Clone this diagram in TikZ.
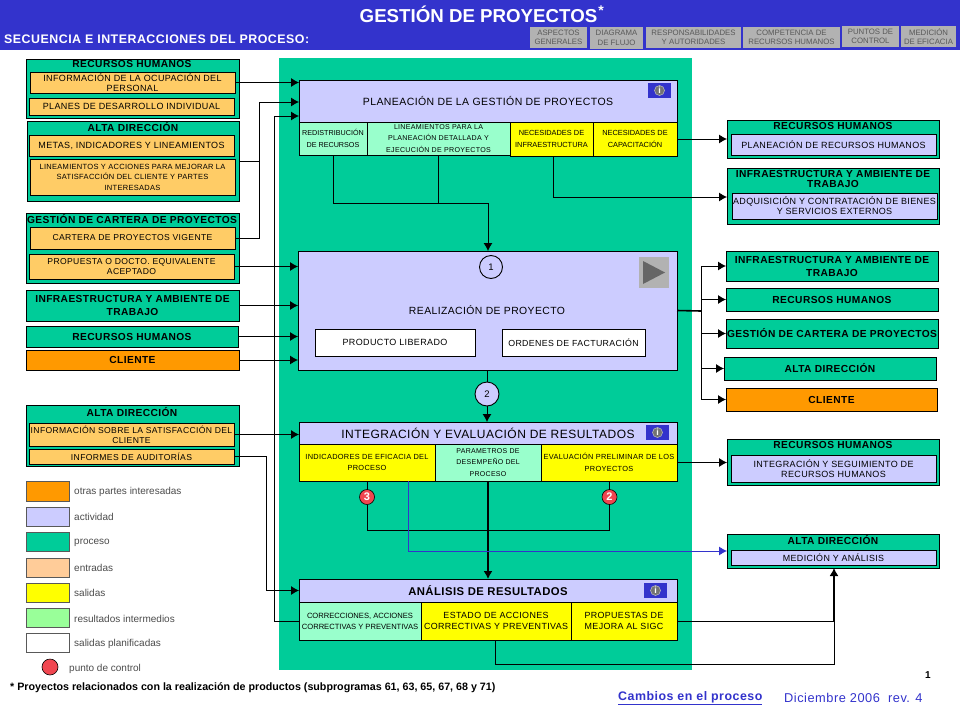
\documentclass[tikz,border=0pt]{standalone}
\usepackage{fontspec}
\setmainfont{Liberation Sans}
\newfontfamily\widefont[LetterSpace=4]{Liberation Sans}
\usetikzlibrary{arrows.meta}
\definecolor{headblue}{RGB}{51,51,204}
\definecolor{procgreen}{RGB}{0,204,153}
\definecolor{actlilac}{RGB}{204,204,255}
\definecolor{inorange}{RGB}{255,204,102}
\definecolor{inpeach}{RGB}{255,204,153}
\definecolor{outyellow}{RGB}{255,255,0}
\definecolor{midgreen}{RGB}{153,255,204}
\definecolor{keygreen}{RGB}{153,255,153}
\definecolor{partorange}{RGB}{255,153,0}
\definecolor{tabgrey}{RGB}{178,178,178}
\definecolor{ctrlred}{RGB}{240,70,80}
\newcommand{\fs}[2]{\fontsize{#1}{#2}\selectfont}
\tikzset{
  panel/.style={draw=black,line width=0.9pt,anchor=north west,inner sep=0pt,outer sep=0pt,align=center,text=black},
  proc/.style={panel,fill=procgreen,font=\widefont\bfseries\fs{10.2}{13}},
  act/.style={panel,fill=actlilac},
  entry/.style={panel,fill=inorange,font=\widefont\fs{8.6}{10}},
  exit/.style={panel,fill=outyellow,font=\widefont\fs{7.4}{11.5}},
  mid/.style={panel,fill=midgreen,font=\widefont\fs{7}{11.5}},
  plan/.style={panel,fill=white,font=\widefont\fs{9}{10}},
  tab/.style={anchor=north west,fill=tabgrey,inner sep=0pt,outer sep=0pt,align=center,text=black!65,font=\fs{7.8}{9.5}},
  head/.style={inner sep=0pt,font=\widefont\bfseries\fs{10.2}{10}},
  sub/.style={act,font=\widefont\fs{9}{10}},
  key/.style={draw=black!65,line width=1pt,anchor=north west,minimum width=43pt,minimum height=20pt,inner sep=0pt,outer sep=0pt},
  keytxt/.style={anchor=west,inner sep=0pt,text=black!70,font=\fs{10}{12}},
  badge/.style={circle,draw=black,line width=0.9pt,fill=actlilac,minimum size=23pt,inner sep=0pt,outer sep=0pt,font=\fs{9.5}{10}},
  ctrl/.style={circle,draw=black,line width=0.6pt,fill=ctrlred,minimum size=15pt,inner sep=0pt,outer sep=0pt,text=white,font=\bfseries\fs{11}{12}},
  infotab/.style={anchor=north west,fill=headblue,minimum width=23pt,minimum height=15pt,inner sep=0pt,outer sep=0pt},
  infodot/.style={circle,fill=black!55,draw=black!25,line width=0.5pt,minimum size=10pt,inner sep=0pt,text=white,font=\bfseries\fs{9}{9}},
  wire/.style={draw=black,line width=0.9pt},
  link/.style={wire,-{Latex[length=8pt,width=9pt]}},
}
\begin{document}
\begin{tikzpicture}[x=1pt,y=-1pt]
\useasboundingbox (0,0) rectangle (960,720);
\fill[white] (0,0) rectangle (960,720);
\fill[headblue] (0,0) rectangle (960,50);
\fill[procgreen] (279,58) rectangle (692,670);
\draw (478.5,14) node[text=white,inner sep=0pt,font=\bfseries\fs{18.7}{19}](title) {GESTIÓN DE PROYECTOS};
\draw (601,11) node[text=white,inner sep=0pt,font=\bfseries\fs{14}{14}](star) {*};
\draw (4,39) node[anchor=west,text=white,inner sep=0pt,font=\widefont\bfseries\fs{12.4}{14}](subtitle) {SECUENCIA E INTERACCIONES DEL PROCESO:};
\draw (530,27) node[tab,minimum width=57pt,minimum height=21pt](tabone) {ASPECTOS\\GENERALES};
\draw (590,27) node[tab,minimum width=53pt,minimum height=22pt](tabtwo) {DIAGRAMA\\DE FLUJO};
\draw (646,27) node[tab,minimum width=95pt,minimum height=21pt](tabthree) {RESPONSABILIDADES\\Y AUTORIDADES};
\draw (743,27) node[tab,minimum width=97pt,minimum height=21pt](tabfour) {COMPETENCIA DE\\RECURSOS HUMANOS};
\draw (842,26) node[tab,minimum width=57pt,minimum height=21pt](tabfive) {PUNTOS DE\\CONTROL};
\draw (901,26) node[tab,minimum width=55pt,minimum height=21pt](tabsix) {MEDICIÓN\\DE EFICACIA};

\draw (26,59) node[proc,minimum width=213pt,minimum height=59pt](rhin) {};
\draw (132,64) node[head](rhinhead) {RECURSOS HUMANOS};
\draw (30,72) node[entry,minimum width=205pt,minimum height=21pt,font=\widefont\fs{9}{10}](ocupa) {INFORMACIÓN DE LA OCUPACIÓN DEL\\PERSONAL};
\draw (29,98) node[entry,minimum width=205pt,minimum height=17pt,font=\widefont\fs{9}{10}](planes) {PLANES DE DESARROLLO INDIVIDUAL};
\draw (27,121) node[proc,minimum width=212pt,minimum height=80pt](adin) {};
\draw (133,127) node[head](adinhead) {ALTA DIRECCIÓN};
\draw (29,135) node[entry,minimum width=205pt,minimum height=21pt,font=\widefont\fs{9}{10}](metas) {METAS, INDICADORES Y LINEAMIENTOS};
\draw (30,159) node[entry,minimum width=205pt,minimum height=36pt,font=\widefont\fs{7.5}{10.5}](mejora) {LINEAMIENTOS Y ACCIONES PARA MEJORAR LA\\SATISFACCIÓN DEL CLIENTE Y PARTES\\INTERESADAS};
\draw (26,213) node[proc,minimum width=213pt,minimum height=70pt](gcin) {};
\draw (132,219) node[head](gcinhead) {GESTIÓN DE CARTERA DE PROYECTOS};
\draw (30,227) node[entry,minimum width=205pt,minimum height=22pt](cartera) {CARTERA DE PROYECTOS VIGENTE};
\draw (29,254) node[entry,minimum width=205pt,minimum height=25pt](propuesta) {PROPUESTA O DOCTO. EQUIVALENTE\\ACEPTADO};
\draw (26,290) node[proc,minimum width=213pt,minimum height=31pt](infrain) {INFRAESTRUCTURA Y AMBIENTE DE\\TRABAJO};
\draw (26,326) node[proc,minimum width=212pt,minimum height=21pt](rhtwo) {RECURSOS HUMANOS};
\draw (26,350) node[proc,fill=partorange,minimum width=213pt,minimum height=20pt](clientein) {CLIENTE};
\draw (26,405) node[proc,minimum width=213pt,minimum height=61pt](adtwo) {};
\draw (132,412) node[head](adtwohead) {ALTA DIRECCIÓN};
\draw (29,423) node[entry,minimum width=205pt,minimum height=23pt](satisf) {INFORMACIÓN SOBRE LA SATISFACCIÓN DEL\\CLIENTE};
\draw (29,449) node[entry,minimum width=205pt,minimum height=15pt](auditoria) {INFORMES DE AUDITORÍAS};

\draw (299,80) node[act,minimum width=378pt,minimum height=42pt,font=\widefont\fs{10.5}{11}](planea) {PLANEACIÓN DE LA GESTIÓN DE PROYECTOS};
\draw (299,122) node[mid,minimum width=68pt,minimum height=33pt,font=\fs{7.2}{11.5}](redist) {REDISTRIBUCIÓN\\DE RECURSOS};
\draw (367,122) node[mid,minimum width=143pt,minimum height=33pt,font=\widefont\fs{7.1}{11.5}](linea) {LINEAMIENTOS PARA LA\\PLANEACIÓN DETALLADA Y\\EJECUCIÓN DE PROYECTOS};
\draw (510,122) node[exit,minimum width=83pt,minimum height=34pt,font=\fs{7.4}{11.5}](necinfra) {NECESIDADES DE\\INFRAESTRUCTURA};
\draw (593,122) node[exit,minimum width=84pt,minimum height=34pt,font=\fs{7.4}{11.5}](neccap) {NECESIDADES DE\\CAPACITACIÓN};
\draw (648,83) node[infotab](infoone) {};
\draw (infoone.center) node[infodot](infodotone) {i};

\draw (298,251) node[act,minimum width=379pt,minimum height=119pt](realiza) {};
\draw (487,310) node[inner sep=0pt,font=\widefont\fs{10.4}{11}](realizatxt) {REALIZACIÓN DE PROYECTO};
\draw (315,329) node[plan,minimum width=160pt,minimum height=27pt](liberado) {PRODUCTO LIBERADO};
\draw (502,329) node[plan,minimum width=143pt,minimum height=27pt,font=\widefont\fs{8.8}{10}](ordenes) {ORDENES DE FACTURACIÓN};
\draw (491,267) node[badge](uno) {1};
\fill[tabgrey] (639,257) rectangle (669,288);
\fill[black!60] (643,261) -- (665,272.5) -- (643,284) -- cycle;
\draw (487,394) node[badge,minimum size=24pt](dos) {2};

\draw (299,422) node[act,minimum width=378pt,minimum height=22pt,font=\widefont\fs{12}{12}](integra) {INTEGRACIÓN Y EVALUACIÓN DE RESULTADOS};
\draw (299,444) node[exit,minimum width=136pt,minimum height=37pt](indica) {INDICADORES DE EFICACIA DEL\\PROCESO};
\draw (435,444) node[mid,minimum width=106pt,minimum height=37pt](parame) {PARAMETROS DE\\DESEMPEÑO DEL\\PROCESO};
\draw (541,444) node[exit,minimum width=136pt,minimum height=37pt](evalua) {EVALUACIÓN PRELIMINAR DE LOS\\PROYECTOS};
\draw (646,425) node[infotab](infotwo) {};
\draw (infotwo.center) node[infodot](infodottwo) {i};
\draw (367,497) node[ctrl](ctrlthree) {3};
\draw (609.5,497) node[ctrl](ctrltwo) {2};

\draw (299,579) node[act,minimum width=378pt,minimum height=23pt,font=\widefont\bfseries\fs{11.3}{12}](analisis) {ANÁLISIS DE RESULTADOS};
\draw (299,602) node[mid,minimum width=122pt,minimum height=38pt,font=\fs{7.6}{11}](correc) {CORRECCIONES, ACCIONES\\CORRECTIVAS Y PREVENTIVAS};
\draw (421,602) node[exit,minimum width=150pt,minimum height=38pt,font=\widefont\fs{8.9}{11}](estado) {ESTADO DE ACCIONES\\CORRECTIVAS Y PREVENTIVAS};
\draw (571,602) node[exit,minimum width=106pt,minimum height=38pt,font=\widefont\fs{8.9}{11}](mejorasigc) {PROPUESTAS DE\\MEJORA AL SIGC};
\draw (644,583) node[infotab](infothree) {};
\draw (infothree.center) node[infodot](infodotthree) {i};

\draw (727,120) node[proc,minimum width=212pt,minimum height=38pt](rhout) {};
\draw (833,126) node[head](rhouthead) {RECURSOS HUMANOS};
\draw (731,134) node[sub,minimum width=205pt,minimum height=21pt](planrh) {PLANEACIÓN DE RECURSOS HUMANOS};
\draw (727,168) node[proc,minimum width=212pt,minimum height=56pt](infraout) {};
\draw (833,179) node[head,align=center,font=\widefont\bfseries\fs{10.2}{10}](infraouthead) {INFRAESTRUCTURA Y AMBIENTE DE\\TRABAJO};
\draw (732,193) node[sub,minimum width=205pt,minimum height=26pt](adquis) {ADQUISICIÓN Y CONTRATACIÓN DE BIENES\\Y SERVICIOS EXTERNOS};
\draw (726,251) node[proc,minimum width=212pt,minimum height=30pt](infrafin) {INFRAESTRUCTURA Y AMBIENTE DE\\TRABAJO};
\draw (726,288) node[proc,minimum width=212pt,minimum height=23pt](rhfin) {RECURSOS HUMANOS};
\draw (726,319) node[proc,minimum width=212pt,minimum height=29pt](gcfin) {GESTIÓN DE CARTERA DE PROYECTOS};
\draw (724,357) node[proc,minimum width=212pt,minimum height=23pt](adfin) {ALTA DIRECCIÓN};
\draw (726,388) node[proc,fill=partorange,minimum width=211pt,minimum height=23pt](clientefin) {CLIENTE};
\draw (727,439) node[proc,minimum width=212pt,minimum height=46pt](rhint) {};
\draw (833,445) node[head](rhinthead) {RECURSOS HUMANOS};
\draw (731,455) node[sub,minimum width=205pt,minimum height=27pt](segui) {INTEGRACIÓN Y SEGUIMIENTO DE\\RECURSOS HUMANOS};
\draw (727,534) node[proc,minimum width=212pt,minimum height=34pt](admed) {};
\draw (833,540) node[head](admedhead) {ALTA DIRECCIÓN};
\draw (731,550) node[sub,minimum width=205pt,minimum height=15pt,font=\widefont\fs{8.9}{10}](medicion) {MEDICIÓN Y ANÁLISIS};

\draw (26,481) node[key,fill=partorange](keyone) {};
\draw (26,507) node[key,fill=actlilac,minimum height=19pt](keytwo) {};
\draw (26,532) node[key,fill=procgreen,minimum height=19pt](keythree) {};
\draw (26,558) node[key,fill=inpeach,minimum height=19pt](keyfour) {};
\draw (26,583) node[key,fill=outyellow,minimum height=19pt](keyfive) {};
\draw (26,608) node[key,fill=keygreen,minimum height=19pt](keysix) {};
\draw (26,633) node[key,fill=white,minimum height=19pt](keyseven) {};
\draw (50,667) node[ctrl,minimum size=16pt](keyctrl) {};
\draw (74,492) node[keytxt](txtone) {otras partes interesadas};
\draw (74,517) node[keytxt](txttwo) {actividad};
\draw (74,543) node[keytxt](txtthree) {proceso};
\draw (74,568) node[keytxt](txtfour) {entradas};
\draw (74,593) node[keytxt](txtfive) {salidas};
\draw (74,619) node[keytxt](txtsix) {resultados intermedios};
\draw (74,644) node[keytxt](txtseven) {salidas planificadas};
\draw (69,669) node[keytxt](txtctrl) {punto de control};

\draw (10,688) node[anchor=west,inner sep=0pt,font=\bfseries\fs{10.7}{12}](nota) {* Proyectos relacionados con la realización de productos (subprogramas 61, 63, 65, 67, 68 y 71)};
\draw (928,675) node[inner sep=0pt,font=\bfseries\fs{10}{12}](pagina) {1};
\draw (618,700) node[anchor=base west,inner sep=0pt,text=headblue,font=\widefont\bfseries\fs{12.4}{13}](cambios) {\underline{Cambios en el proceso}};
\draw (784,702) node[anchor=base west,inner sep=0pt,text=headblue,font=\widefont\fs{12.8}{14}](fecha) {Diciembre 2006\ \ rev. 4};

\coordinate (jleft) at (259,102);
\coordinate (jadin) at (259,161);
\coordinate (jback) at (274.5,116);
\coordinate (jaudit) at (266,456);
\draw[link] (ocupa.east) -- (ocupa.east -| planea.west);
\draw[wire] (jadin -| adin.east) -- (jadin);
\draw[wire] (cartera.east) -- (cartera.east -| jleft) -- (jleft);
\draw[link] (jleft) -- (jleft -| planea.west);
\draw[link] (correc.west) -- (correc.west -| jback) -- (jback) -- (jback -| planea.west);
\draw[link] (propuesta.east) -- (propuesta.east -| realiza.west);
\draw[link] (infrain.east) -- (infrain.east -| realiza.west);
\draw[link] (rhtwo.east) -- (rhtwo.east -| realiza.west);
\draw[link] (clientein.east) -- (clientein.east -| realiza.west);
\draw[link] (satisf.east) -- (satisf.east -| integra.west);
\draw[link] (auditoria.east) -- (auditoria.east -| jaudit) -- (jaudit |- analisis.west) -- (analisis.west);

\coordinate (jplan) at (488,203);
\draw[wire] (redist.south) -- (redist.south |- jplan) -- (jplan);
\draw[wire] (linea.south) -- (linea.south |- jplan);
\draw[link] (jplan) -- (jplan |- realiza.north);
\draw[link] (neccap.east) -- (rhout.west);
\coordinate (jneed) at (553,197);
\draw[wire] (necinfra.south -| jneed) -- (jneed);
\draw[link] (jneed) -- (jneed -| infraout.west);

\coordinate (jfin) at (701,311);
\draw[wire,line width=1.6pt] (realiza.east) -- (jfin);
\draw[link] (jfin) -- (jfin |- infrafin.west) -- (infrafin.west);
\draw[link] (jfin |- rhfin.west) -- (rhfin.west);
\draw[link] (jfin |- gcfin.west) -- (gcfin.west);
\draw[link] (jfin) -- (jfin |- adfin.west) -- (adfin.west);
\draw[link] (jfin |- adfin.west) -- (jfin |- clientefin.west) -- (clientefin.west);
\draw[wire] (realiza.south -| dos) -- (dos);
\draw[link] (dos) -- (dos |- integra.north);

\draw[link] (evalua.east) -- (evalua.east -| rhint.west);
\coordinate (jmed) at (488,530);
\draw[wire] (indica.south -| ctrlthree) -- (ctrlthree);
\draw[wire] (ctrlthree) -- (ctrlthree |- jmed) -- (jmed);
\draw[wire] (evalua.south -| ctrltwo) -- (ctrltwo);
\draw[wire] (ctrltwo) -- (ctrltwo |- jmed) -- (jmed);
\draw[link,line width=1.3pt] (parame.south -| jmed) -- (jmed |- analisis.north);
\coordinate (jblue) at (408.5,551);
\draw[link,draw=headblue] (indica.south -| jblue) -- (jblue) -- (jblue -| admed.west);
\coordinate (jsig) at (834,621);
\draw[wire] (mejorasigc.east) -- (jsig);
\coordinate (jestado) at (495,664);
\draw[wire] (estado.south -| jestado) -- (jestado) -- (jestado -| jsig) -- (jsig);
\draw[link,line width=1.3pt] (jsig) -- (jsig |- admed.south);
\end{tikzpicture}
\end{document}
